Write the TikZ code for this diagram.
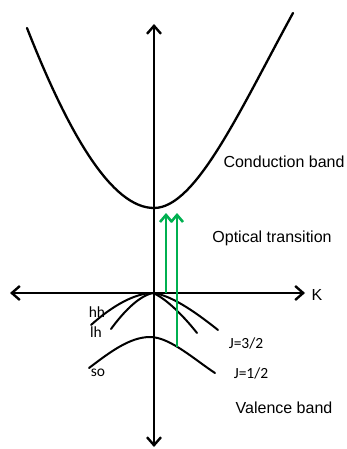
\documentclass[tikz,border=0pt]{standalone}
\usepackage{fontspec}
\setmainfont{Liberation Sans}
\newfontfamily\calib{Carlito}
\usetikzlibrary{arrows.meta}
\definecolor{optgreen}{RGB}{0,176,80}
\tikzset{
  axis/.style={line width=2.4pt, -{Straight Barb[length=8pt,width=14pt]}},
  band/.style={line width=2.3pt, line cap=round},
  vband/.style={line width=2pt, line cap=round},
  transarrow/.style={optgreen, line width=2.6pt, -{Straight Barb[length=7pt,width=12pt]}},
  biglabel/.style={font=\fontsize{16}{18}\selectfont, inner sep=0pt},
  smalllabel/.style={font=\calib\fontsize{15.5}{17}\selectfont, inner sep=0pt}
}
\begin{document}
\begin{tikzpicture}[x=1pt,y=-1pt]
\useasboundingbox (0,0) rectangle (347,449);
% axes
\coordinate (origin) at (154,293);
\coordinate (xleft) at (10,293);
\coordinate (xright) at (305,293);
\coordinate (ytop) at (154,24);
\coordinate (ybot) at (154,447);
\draw[axis] (origin) -- (xright);
\draw[axis] (origin) -- (xleft);
\draw[axis] (origin) -- (ytop);
\draw[axis] (origin) -- (ybot);
% conduction band
\coordinate (cbL) at (27,28);
\coordinate (cbmin) at (154,208);
\coordinate (cbR) at (293,13);
\draw[band] (cbL) .. controls (69,135) and (112,208) .. (cbmin)
  .. controls (196,208) and (240,110) .. (cbR);
% valence bands
\coordinate (vtop) at (153,293);
\coordinate (hhL) at (91,325);
\coordinate (lhL) at (111,329);
\coordinate (hhR) at (218,330);
\coordinate (lhR) at (197,333);
\coordinate (soL) at (89,368);
\coordinate (sotop) at (150,337);
\coordinate (soR) at (215,373);
\draw[vband] (hhL) .. controls (112,306) and (135,293) .. (vtop);
\draw[vband] (lhL) .. controls (122,314) and (138,296) .. (vtop);
\draw[vband] (vtop) .. controls (170,295) and (193,310) .. (hhR);
\draw[vband] (vtop) .. controls (165,298) and (182,314) .. (lhR);
\draw[vband] (soL) .. controls (110,352) and (130,337) .. (sotop)
  .. controls (170,337) and (195,360) .. (soR);
% optical transitions
\coordinate (t1bot) at (166,293);
\coordinate (t1top) at (166,213);
\coordinate (t2bot) at (177,347);
\coordinate (t2top) at (177,213);
\draw[transarrow] (t1bot) -- (t1top);
\draw[transarrow] (t2bot) -- (t2top);
% labels
\node[biglabel] (cond) at (284,162) {Conduction band};
\node[biglabel] (opt) at (272,238) {Optical transition};
\node[biglabel] (val) at (284,408) {Valence band};
\node[biglabel] (K) at (317,295) {K};
\node[smalllabel] (hh) at (97,312) {hh};
\node[smalllabel] (lh) at (96,332) {lh};
\node[smalllabel] (so) at (98,373) {so};
\node[smalllabel] (j32) at (246,343) {J=3/2};
\node[smalllabel] (j12) at (251,373) {J=1/2};
\end{tikzpicture}
\end{document}
